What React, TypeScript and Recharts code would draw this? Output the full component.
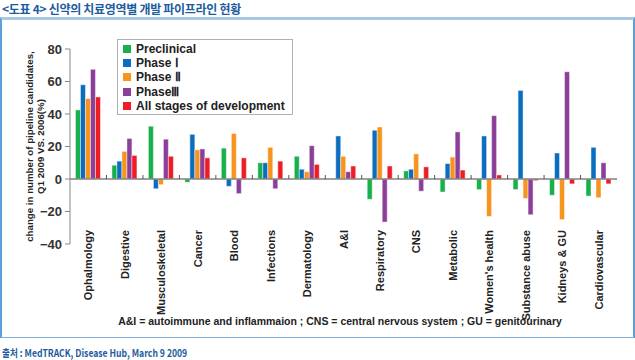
import { BarChart, Bar, XAxis, YAxis, ReferenceLine, Legend } from 'recharts';

const CATEGORIES = [
  'Ophalmology', 'Digestive', 'Musculoskeletal', 'Cancer', 'Blood',
  'Infections', 'Dermatology', 'A&I', 'Respiratory', 'CNS',
  'Metabolic', "Women's health", 'Substance abuse', 'Kidneys & GU', 'Cardiovascular',
];

const PRECLINICAL = [42.5, 8.5, 32.5, -2, 19, 10, 14, 0, -12.5, 5, -8, -6.5, -6.5, -10, -10.5];
const PHASE_1 = [58, 11, -6, 27.5, -4.5, 10, 6, 26.5, 30, 6, 9.5, 26.5, 54.5, 16, 19.5];
const PHASE_2 = [49.5, 17, -3.5, 18, 28, 19.5, 4.5, 14, 32, 15.5, 13.5, -23, -12, -25, -11.5];
const PHASE_3 = [67.5, 25, 24.5, 18.5, -9, -6, 20.5, 4.5, -26.5, -7.5, 29, 39, -22, 66, 10];
const ALL_STAGES = [50.5, 14.5, 14, 13, 13, 11, 9, 8, 8, 7.5, 5.5, 2.5, -1, -3, -3];

const Y_TICKS = [-40, -20, 0, 20, 40, 60, 80];

const SERIES = [
  { key: 'preclinical', name: 'Preclinical', color: '#18b04a', values: PRECLINICAL },
  { key: 'phase1', name: 'Phase Ⅰ', color: '#0b6dbf', values: PHASE_1 },
  { key: 'phase2', name: 'Phase Ⅱ', color: '#f7941d', values: PHASE_2 },
  { key: 'phase3', name: 'PhaseⅢ', color: '#8c3f99', values: PHASE_3 },
  { key: 'all', name: 'All stages of development', color: '#ee1c25', values: ALL_STAGES },
];

const FONT = '"Liberation Sans", Arial, sans-serif';
const KR_FONT = '"Noto Sans CJK KR", "Liberation Sans", sans-serif';

const data = CATEGORIES.map((name, i) => {
  const row: Record<string, string | number> = { name };
  SERIES.forEach(s => { row[s.key] = s.values[i]; });
  return row;
});

function CategoryTick(props: any) {
  const { x, y, payload } = props;
  return (
    <text
      transform={`translate(${x + 4},${y - 14}) rotate(-90)`}
      textAnchor="end"
      fontSize={11}
      fontWeight="bold"
      fontFamily={FONT}
      fill="#222"
    >
      {payload.value}
    </text>
  );
}

// zero line with little marks between categories
function ZeroLine(props: any) {
  const { x1, x2, y1 } = props;
  const n = CATEGORIES.length;
  const step = (x2 - x1) / n;
  const marks = [];
  for (let i = 1; i < n; i++) {
    const mx = x1 + step * i;
    marks.push(<line key={i} x1={mx} x2={mx} y1={y1 - 4} y2={y1} stroke="#555" strokeWidth={1} />);
  }
  return (
    <g>
      <line x1={x1} x2={x2} y1={y1} y2={y1} stroke="#808080" strokeWidth={1.6} />
      {marks}
    </g>
  );
}

function YTitle(props: any) {
  const { viewBox } = props;
  const cy = viewBox.y + viewBox.height / 2;
  return (
    <g fontFamily={FONT} fontSize={9.7} fontWeight="bold" fill="#222">
      <text transform={`translate(33,${cy}) rotate(-90)`} textAnchor="middle">
        change in number of pipeline candidates,
      </text>
      <text transform={`translate(44,${cy}) rotate(-90)`} textAnchor="middle">
        Q1 2009 VS. 2006(%)
      </text>
    </g>
  );
}

function LegendBox() {
  return (
    <div
      style={{
        width: 176, height: 76, boxSizing: 'border-box', border: '1px solid #b0b0b0',
        background: '#fff', padding: '2px 0 0 5px', fontFamily: FONT, fontSize: 12,
        fontWeight: 'bold', color: '#222', textAlign: 'left',
      }}
    >
      {SERIES.map(s => (
        <div key={s.key} style={{ display: 'flex', alignItems: 'center', height: 14.2, whiteSpace: 'nowrap' }}>
          <span style={{ width: 8, height: 8, background: s.color, marginRight: 5, flex: 'none' }} />
          <span>{s.name}</span>
        </div>
      ))}
    </div>
  );
}

export default function App() {
  return (
    <div style={{ position: 'absolute', left: 0, top: 0, width: 635, height: 360, background: '#fff' }}>
      <div
        style={{
          position: 'absolute', left: 2, top: 0, fontFamily: KR_FONT, fontSize: 12,
          fontWeight: 'bold', color: '#1d5c9e', letterSpacing: -0.3, whiteSpace: 'nowrap',
        }}
      >
        &lt;도표 4&gt; 신약의 치료영역별 개발 파이프라인 현황
      </div>
      <div
        style={{
          position: 'absolute', left: 0, top: 17, width: 635, height: 321, boxSizing: 'border-box',
          borderTop: '3px solid #a9c8e3', borderLeft: '2px solid #5f9fd6',
          borderRight: '2px solid #5f9fd6', borderBottom: '1px solid #7fb0dd',
        }}
      />
      <div style={{ position: 'absolute', left: 0, top: 0 }}>
        <BarChart
          width={635}
          height={360}
          data={data}
          margin={{ top: 49, right: 18, bottom: 36, left: 30 }}
          barCategoryGap="15%"
          barGap={0}
        >
          <XAxis
            dataKey="name"
            axisLine={false}
            tickLine={false}
            tickSize={0}
            tickMargin={0}
            height={80}
            interval={0}
            tick={<CategoryTick />}
          />
          <YAxis
            domain={[-40, 80]}
            ticks={Y_TICKS}
            width={40}
            stroke="#888"
            tickSize={5}
            tickMargin={3}
            tickFormatter={(v: number) => String(v).replace('-', '−')}
            tick={{ fontSize: 13, fontWeight: 'bold', fill: '#333', fontFamily: FONT }}
            label={{ content: YTitle }}
          />
          <Legend
            layout="vertical"
            align="center"
            verticalAlign="middle"
            content={LegendBox}
            wrapperStyle={{ left: 117, top: 39, width: 176 }}
          />
          {SERIES.map(s => (
            <Bar
              key={s.key}
              dataKey={s.key}
              name={s.name}
              fill={s.color}
              stroke="#fff"
              strokeOpacity={0.45}
              strokeWidth={1}
              isAnimationActive={false}
            />
          ))}
          <ReferenceLine y={0} shape={ZeroLine} />
        </BarChart>
      </div>
      <div
        style={{
          position: 'absolute', left: 0, width: 635, top: 315, textAlign: 'center', paddingLeft: 45,
          boxSizing: 'border-box', fontFamily: FONT, fontSize: 10.5, fontWeight: 'bold', color: '#222',
        }}
      >
        A&amp;I = autoimmune and inflammaion ; CNS = central nervous system ; GU = genitourinary
      </div>
      <div
        style={{
          position: 'absolute', left: 2, top: 345, fontFamily: KR_FONT, fontSize: 10.5,
          fontWeight: 'bold', color: '#1d5c9e', whiteSpace: 'nowrap',
          transform: 'scaleX(0.82)', transformOrigin: 'left top',
        }}
      >
        출처 : MedTRACK, Disease Hub, March 9 2009
      </div>
    </div>
  );
}
